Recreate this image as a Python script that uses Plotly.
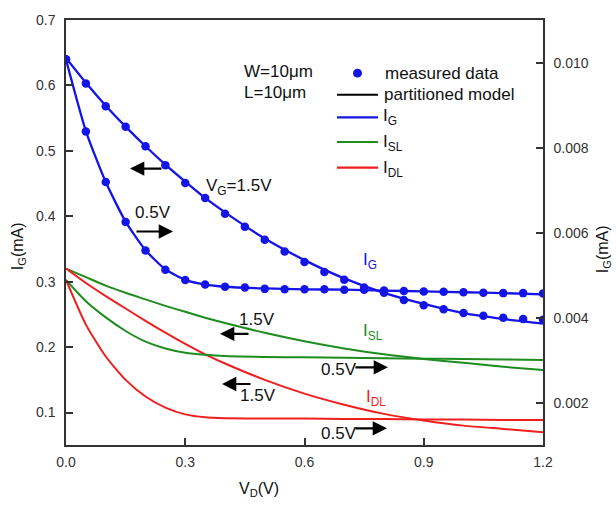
import plotly.graph_objects as go

# ---------------- data ----------------
VD_DATA = [0.00, 0.05, 0.10, 0.15, 0.20, 0.25, 0.30, 0.35, 0.40, 0.45, 0.50, 0.55, 0.60,
           0.65, 0.70, 0.75, 0.80, 0.85, 0.90, 0.95, 1.00, 1.05, 1.10, 1.15, 1.20]
IG_MEAS_15 = [0.640, 0.603, 0.568, 0.537, 0.507, 0.478, 0.451, 0.428, 0.404, 0.384, 0.364, 0.346, 0.330,
              0.315, 0.303, 0.291, 0.283, 0.272, 0.264, 0.258, 0.252, 0.248, 0.245, 0.243, 0.242]
IG_MEAS_05 = [0.01008, 0.00839, 0.00720, 0.00626, 0.00559, 0.00514, 0.00490, 0.00479, 0.00474, 0.00472,
              0.00469, 0.00468, 0.00468, 0.00468, 0.00467, 0.00467, 0.00465, 0.00464, 0.00463, 0.00462,
              0.00461, 0.00460, 0.00459, 0.00459, 0.00458]

VD_MODEL = [0.00, 0.05, 0.10, 0.15, 0.20, 0.25, 0.30, 0.35, 0.40, 0.50, 0.60, 0.70, 0.80, 0.90, 1.00, 1.10, 1.20]
IG_MODEL_15 = [0.642, 0.604, 0.569, 0.537, 0.507, 0.479, 0.453, 0.428, 0.406, 0.366, 0.333, 0.305, 0.283,
               0.266, 0.252, 0.243, 0.236]
ISL_MODEL_15 = [0.320, 0.307, 0.294, 0.283, 0.273, 0.263, 0.254, 0.245, 0.237, 0.222, 0.209, 0.198, 0.189,
                0.182, 0.176, 0.170, 0.165]
IDL_MODEL_15 = [0.320, 0.298, 0.278, 0.259, 0.240, 0.222, 0.205, 0.189, 0.175, 0.150, 0.129, 0.112, 0.098,
                0.088, 0.080, 0.075, 0.070]
IG_MODEL_05 = [0.01008, 0.00840, 0.00720, 0.00627, 0.00560, 0.00515, 0.00490, 0.00479, 0.00474, 0.00470,
               0.00468, 0.00467, 0.00465, 0.00463, 0.00461, 0.00459, 0.00456]
ISL_MODEL_05 = [0.00490, 0.00440, 0.00402, 0.00370, 0.00345, 0.00329, 0.00319, 0.00314, 0.00311, 0.00309,
                0.00308, 0.00307, 0.00306, 0.00305, 0.00304, 0.00303, 0.00302]
IDL_MODEL_05 = [0.00490, 0.00385, 0.00310, 0.00255, 0.00216, 0.00190, 0.00174, 0.00167, 0.00165, 0.00164,
                0.00164, 0.00163, 0.00163, 0.00162, 0.00162, 0.00161, 0.00161]

X_TICKS = [0.0, 0.3, 0.6, 0.9, 1.2]
Y_TICKS = [0.1, 0.2, 0.3, 0.4, 0.5, 0.6, 0.7]
Y2_TICKS = [0.002, 0.004, 0.006, 0.008, 0.010]

# ---------------- style ----------------
BLUE = "#1414e6"
GREEN = "#1e8c1e"
RED = "#f01e1e"
AXC = "#333333"
FONT = "Liberation Sans, Arial, sans-serif"

W, H = 616, 506
L, R, T, B = 66, 543, 13, 445


def pxx(x):
    return (x - L) / (R - L)


def pxy(y):
    return (B - y) / (B - T)


fig = go.Figure()

line_specs = [
    (ISL_MODEL_05, GREEN, "y2"), (IDL_MODEL_05, RED, "y2"),
    (ISL_MODEL_15, GREEN, "y"), (IDL_MODEL_15, RED, "y"),
    (IG_MODEL_05, BLUE, "y2"), (IG_MODEL_15, BLUE, "y"),
]
for ys, col, ax in line_specs:
    fig.add_trace(go.Scatter(x=VD_MODEL, y=ys, mode="lines", yaxis=ax,
                             line=dict(color=col, width=2.3 if col == BLUE else 2, shape="spline", smoothing=0.6),
                             showlegend=False, hoverinfo="skip"))

fig.add_trace(go.Scatter(x=VD_DATA, y=IG_MEAS_15, mode="markers", yaxis="y",
                         marker=dict(color=BLUE, size=8.5), showlegend=False))
fig.add_trace(go.Scatter(x=VD_DATA, y=IG_MEAS_05, mode="markers", yaxis="y2",
                         marker=dict(color=BLUE, size=8.5), showlegend=False))

axis_common = dict(showline=True, linecolor=AXC, linewidth=1.5, ticks="inside", ticklen=7,
                   tickwidth=1.5, tickcolor=AXC, showgrid=False, zeroline=False,
                   tickfont=dict(family=FONT, size=14, color="#333333"))

fig.update_layout(
    width=W, height=H,
    margin=dict(l=L, r=W - R, t=T, b=H - B),
    paper_bgcolor="white", plot_bgcolor="white",
    xaxis=dict(range=[0, 1.2], tickvals=X_TICKS, tickformat=".1f", mirror=True,
               ticklabelstandoff=3, **axis_common),
    yaxis=dict(range=[0.0504, 0.7], tickvals=Y_TICKS, tickformat=".1f",
               ticklabelstandoff=6, **axis_common),
    yaxis2=dict(range=[0.00102, 0.01101], tickvals=Y2_TICKS, tickformat=".3f",
                overlaying="y", side="right", ticklabelstandoff=6, **axis_common),
    showlegend=False,
)

ann = []


def text(x, y, s, size=16, color="#111111", xanchor="left", angle=0):
    ann.append(dict(x=pxx(x), y=pxy(y), xref="paper", yref="paper", text=s, showarrow=False,
                    xanchor=xanchor, yanchor="middle", textangle=angle,
                    font=dict(family=FONT, size=size, color=color)))


def arrow(hx, hy, tx, ty):
    ann.append(dict(x=pxx(hx), y=pxy(hy), xref="paper", yref="paper", text="", showarrow=True,
                    ax=tx - hx, ay=ty - hy, arrowhead=2, arrowsize=1.3, arrowwidth=2.2,
                    arrowcolor="black", standoff=0))


# axis titles
text(18, 243, "I<sub>G</sub>(mA)", size=16, xanchor="center", angle=-90)
text(603, 246, "I<sub>G</sub>(mA)", size=16, xanchor="center", angle=-90)
text(259, 490, "V<sub>D</sub>(V)", size=16, xanchor="center")

# device text
text(242, 65, "W=10\u03bcm", size=17)
text(242, 87, "L=10\u03bcm", size=17)

# curve labels
text(204, 183, "V<sub>G</sub>=1.5V", size=17)
text(133, 209, "0.5V", size=17)
text(237, 317, "1.5V", size=17)
text(238, 395, "1.5V", size=17)
text(319, 368, "0.5V", size=17)
text(319, 433, "0.5V", size=17)
text(361, 258, "I<sub>G</sub>", size=17, color=BLUE)
text(361, 330, "I<sub>SL</sub>", size=17, color=GREEN)
text(364, 397, "I<sub>DL</sub>", size=17, color=RED)

arrow(130, 164, 163, 164)
arrow(173, 228, 135, 228)
arrow(220, 332, 250, 332)
arrow(222, 383, 252, 383)
arrow(388, 366, 354, 366)
arrow(387, 428, 354, 428)

# legend
text(383, 67, "measured data", size=17)
text(382, 89, "partitioned model", size=17)
text(381, 112, "I<sub>G</sub>", size=17)
text(381, 138, "I<sub>SL</sub>", size=17)
text(381, 164, "I<sub>DL</sub>", size=17)

shapes = [
    dict(type="circle", xref="paper", yref="paper", x0=pxx(353), x1=pxx(362), y0=pxy(71.5), y1=pxy(62.5),
         fillcolor=BLUE, line=dict(width=0)),
]
for yy, col in [(89, "black"), (112, BLUE), (137, GREEN), (163, RED)]:
    shapes.append(dict(type="line", xref="paper", yref="paper", x0=pxx(337), x1=pxx(378),
                       y0=pxy(yy), y1=pxy(yy), line=dict(color=col, width=2.2)))

fig.update_layout(annotations=ann, shapes=shapes)
fig.write_html("out.html")
